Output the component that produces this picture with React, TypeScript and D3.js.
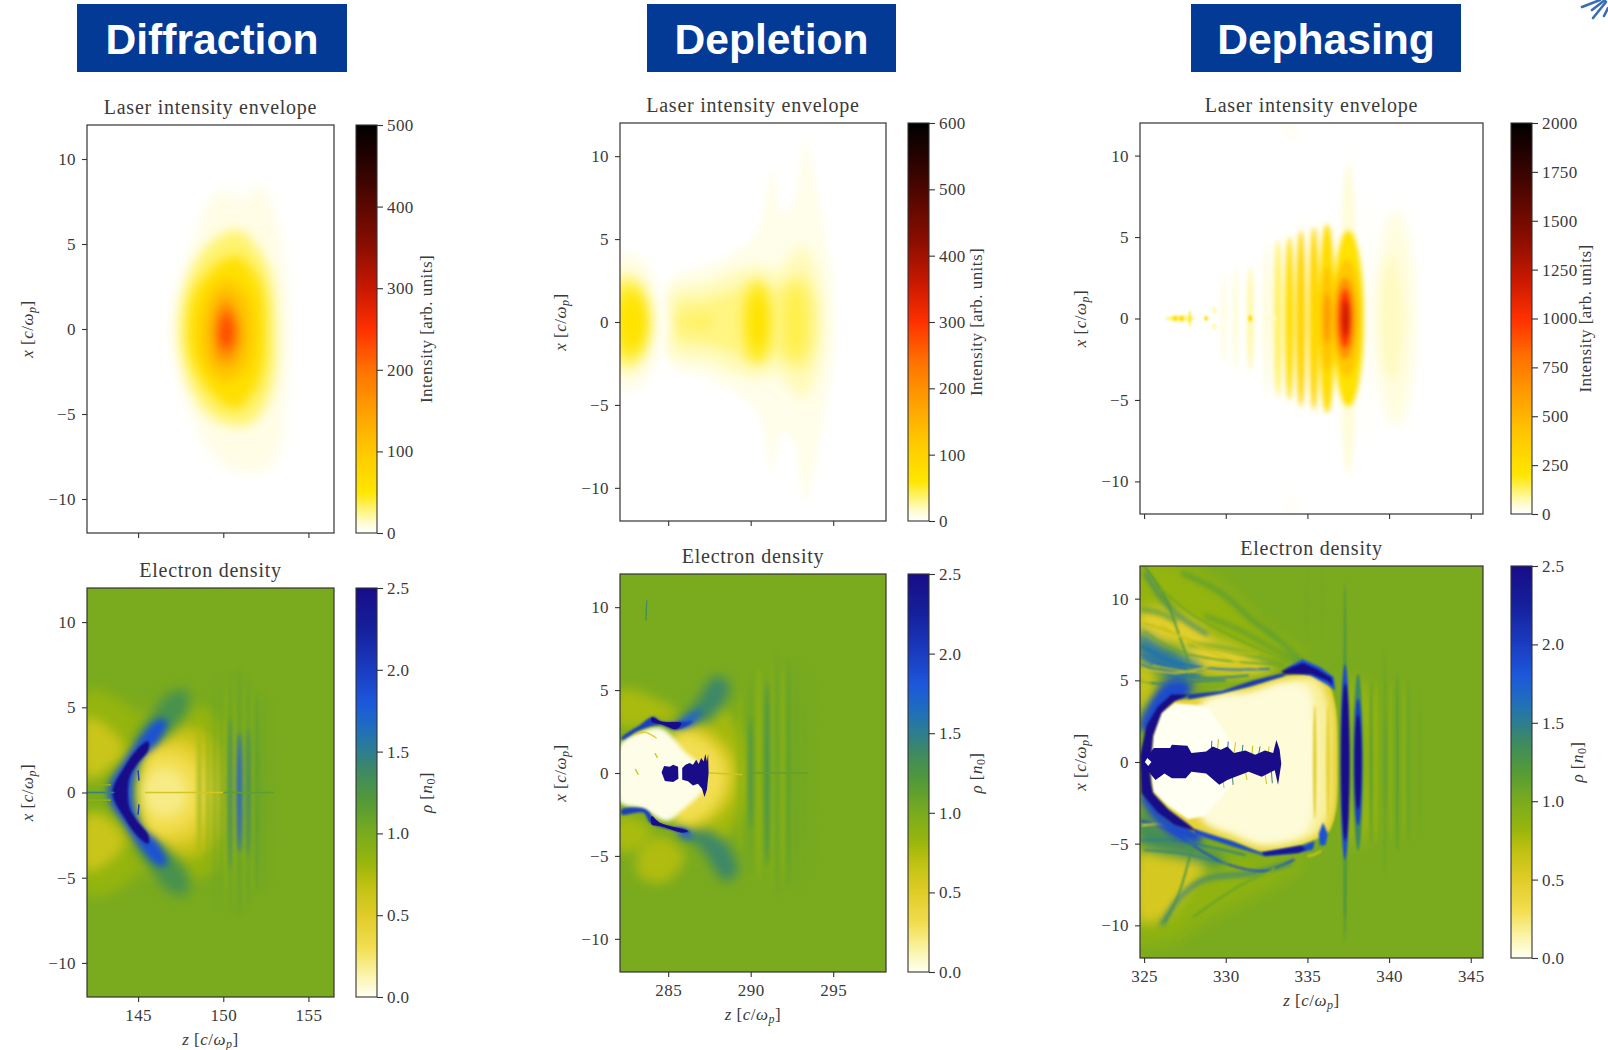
import React, { useEffect, useRef } from 'react';
import * as d3 from 'd3';

type Pt = [number, number];
type Layer = [number, Pt[]];
type Blob = [number, number, number, number, number]; // value, z, x, half width in z, half height in x
type Pass = { blur: number; polys?: Layer[]; blobs?: Blob[]; lines?: Layer[]; lineWidth?: number; jagged?: boolean };

const mirror = (pts: Pt[]): Pt[] => [
  ...pts,
  ...pts.slice().reverse().filter(d => d[1] !== 0).map(d => [d[0], -d[1]] as Pt),
];

const banners = ['Diffraction', 'Depletion', 'Dephasing'];
const xTicks = [-10, -5, 0, 5, 10];
const densityTicks = [0, 0.5, 1, 1.5, 2, 2.5];
const diffractionZTicks = [145, 150, 155];
const depletionZTicks = [285, 290, 295];
const dephasingZTicks = [325, 330, 335, 340, 345];
const diffractionLaserTicks = [0, 100, 200, 300, 400, 500];
const depletionLaserTicks = [0, 100, 200, 300, 400, 500, 600];
const dephasingLaserTicks = [0, 250, 500, 750, 1000, 1250, 1500, 1750, 2000];

const laserStops = [0, 0.02, 0.05, 0.1, 0.2, 0.3, 0.4, 0.5, 0.6, 0.7, 0.8, 0.9, 1];
const laserColors = ['#ffffff', '#fffde0', '#fff68a', '#ffe600', '#ffc800', '#ff9f00', '#ff7200', '#ff3000', '#c81800', '#8c0e00', '#5c0800', '#2c0300', '#000000'];
const densityStops = [0, 0.05, 0.12, 0.2, 0.28, 0.33, 0.4, 0.48, 0.55, 0.6, 0.65, 0.72, 0.8, 0.9, 1];
const densityColors = ['#fffff2', '#fbf5b0', '#f2de50', '#e0cc28', '#bcc010', '#96b50c', '#7aab1e', '#529a38', '#3f8a60', '#2e7d90', '#2070b8', '#1c58dc', '#1a3cc0', '#15209c', '#180c88'];

// Diffraction: laser contours, in [z, x] and arbitrary intensity
const diffractionLaser: Layer[] = [
  [8, [[150, 8.2], [151.1, 7.7], [152.2, 8.5], [153.2, 6.1], [153.7, 3], [153.9, 0], [153.7, -3.9], [153.2, -7.4], [152, -8.5], [150.2, -8.1], [148.5, -6], [147.5, -3.3], [146.9, 0], [147.4, 2.7], [148.4, 5.5], [149, 7.2]]],
  [30, [[150.9, 5.8], [152.6, 3.7], [153.1, 0], [152.8, -3.7], [151.5, -5.6], [149.5, -5.3], [148, -3.3], [147.4, 0], [147.9, 2.9], [149.2, 5]]],
  [62, [[150.7, 4.3], [152.1, 2.8], [152.5, 0], [152.1, -3.1], [150.7, -4.7], [149.2, -3.7], [148.1, -1.7], [147.9, 0], [148.4, 2.4]]],
  [105, [[150.2, 2.9], [151.4, 1.8], [151.7, 0], [151.3, -2.3], [150, -3.1], [148.9, -1.8], [148.7, 0], [149.1, 1.8]]],
  [165, [[150.2, 1.9], [151, 0], [150.6, -1.8], [149.8, -2], [149.4, 0], [149.7, 1.4]]],
  [240, [[150.2, 1.1], [150.6, 0], [150.3, -1.2], [149.9, -1], [149.8, 0]]],
];

// Diffraction: density
const diffractionWarm: Layer[] = [
  [0.84, mirror([[145, 4.5], [147, 5.2], [149.2, 4.8], [151, 2.8], [151.6, 0]])],
  [0.84, [[142, 6], [144, 5.4], [145.4, 3.8], [143.9, 1.6], [142, 0.4]]],
  [0.84, [[142, -0.9], [143.8, -1.4], [145.4, -3.8], [144, -5.6], [142, -6]]],
  [0.66, mirror([[146, 3.3], [147.5, 3.9], [149.3, 3.2], [150.4, 1.5], [150.7, 0]])],
  [0.62, [[142, 4.4], [143.5, 3.6], [144.2, 2.5], [143.1, 1.3], [142, 0.9]]],
  [0.62, [[142, -1.3], [143.1, -1.5], [144.2, -2.8], [143.5, -3.9], [142, -4.6]]],
  [0.46, mirror([[145.5, 2.7], [146.5, 3.1], [148, 2.9], [149.2, 1.7], [149.7, 0]])],
  [0.3, mirror([[145.2, 1.5], [146, 2.3], [147.5, 2.2], [148.5, 1.2], [148.9, 0]])],
  [0.2, mirror([[145.2, 0], [146, 1.3], [147.3, 1.2], [147.9, 0]])],
];
const diffractionTeal: Layer[] = [
  [1.3, [[144.8, 2.8], [145.6, 4.4], [146.8, 5.8], [147.8, 6], [148, 5], [147.2, 3.8], [146.2, 3]]],
  [1.3, [[144.8, -2.8], [145.6, -4.4], [146.8, -5.8], [147.8, -6], [148, -5], [147.2, -3.8], [146.2, -3]]],
];
const diffractionHalo: Layer[] = [
  [1.85, mirror([[143.2, 0], [144.2, 1.9], [145.1, 3.2], [146.2, 4.3], [146.7, 4.2], [146.2, 3], [145.2, 2], [144.8, 0.9], [144.7, 0]])],
];
const diffractionChevron: Layer[] = [
  [2.5, mirror([[143.5, 0], [144.2, 1.5], [145.1, 2.7], [145.6, 3], [145.6, 2.5], [144.9, 1.6], [144.5, 0.9], [144.4, 0]])],
];
const diffractionStripes: Blob[] = [
  [0.92, 148.6, 0, 0.09, 3.5], [0.95, 149.1, 0, 0.09, 4.5], [1.05, 149.5, 0, 0.09, 7], [1.08, 149.9, 0, 0.09, 7],
  [0.85, 150.15, 0, 0.08, 6.5], [1.08, 150.4, 0, 0.14, 7.2], [1.4, 150.4, 0, 0.13, 4.4], [0.85, 150.68, 0, 0.07, 6], [1.12, 150.95, 0, 0.14, 7.4], [1.75, 150.95, 0, 0.16, 3.5],
  [0.85, 151.2, 0, 0.07, 6], [1.1, 151.47, 0, 0.13, 7], [1.42, 151.47, 0, 0.12, 3.8], [0.88, 151.72, 0, 0.06, 6], [1.2, 151.97, 0, 0.09, 6], [1.1, 152.4, 0, 0.07, 6], [1.05, 152.9, 0, 0.06, 5.5],
];
const diffractionAxisLines: Layer[] = [
  [1.45, [[142, 0], [143.6, 0]]],
  [0.58, [[145.4, 0], [150, 0]]],
  [1.15, [[150, 0], [153, 0]]],
  [0.9, [[142, -0.45], [143.4, -0.45]]],
  [0.9, [[142, 0.45], [143.4, 0.45]]],
];
const diffractionDashes: Layer[] = [
  [2, [[145, 1.3], [145.05, 0.7]]],
  [2, [[145, -1.3], [145.05, -0.7]]],
  [1.7, [[144.5, 0.3], [144.5, -0.3]]],
];

// Depletion: laser
const depletionLaserFaint: Layer[] = [
  [8, mirror([[285, 0], [285.1, 2.6], [287.3, 3.4], [289.3, 4.4], [290.5, 5.6], [291.3, 9.2], [291.9, 6.6], [292.6, 7.2], [293.3, 10.9], [294.1, 7.5], [294.9, 3], [295.1, 0]])],
];
const depletionLaserBody: Layer[] = [
  [20, mirror([[285.1, 0], [285.2, 1.9], [287.3, 2.4], [289.3, 3.2], [290.5, 3.4], [291.6, 3.1], [292.3, 3.9], [293.2, 4.6], [294, 3.2], [294.4, 0]])],
  [32, mirror([[285.4, 0], [285.6, 1.1], [287, 1.3], [289, 1.9], [290.3, 2.6], [291.4, 2], [293, 2.9], [293.9, 1.5], [294, 0]])],
];
const depletionLaserBlobs: Blob[] = [
  [12, 282.5, 0, 2, 4.1], [32, 282.5, 0, 1.55, 2.9], [54, 282.7, 0, 1.15, 2.2], [66, 282.9, 0, 0.75, 1.4],
  [54, 290.4, 0, 0.85, 2.4], [68, 290.45, 0, 0.55, 1.5],
  [44, 292.7, 0, 0.65, 2.2], [52, 287.2, 0, 0.22, 0.3], [42, 286, 0, 0.22, 0.3], [44, 286.6, 0, 0.18, 0.3],
];

// Depletion: density
const depletionSoft: Layer[] = [
  [0.76, [[282, 5], [284, 4.6], [285.7, 3.5], [284, 3], [282, 2.8]]],
  [0.76, [[282, -2.6], [284, -3.4], [283, -4.6], [282, -4.8]]],
  [0.74, [[283.2, -4.8], [284.5, -3.8], [286, -5], [284.8, -6.6], [283.2, -6.2]]],
  [0.78, [[286.3, 3.6], [288.1, 4.2], [289.3, 2.4], [289.7, 0], [289.3, -2.6], [288, -4.3], [286.3, -3.6]]],
  [1.4, [[285.6, 2.8], [286.8, 4.4], [287.8, 5.8], [288.7, 5.4], [288.2, 3.9], [287, 2.9]]],
  [1.4, [[285.9, -3.3], [287.2, -4.8], [288.4, -6.5], [289.2, -6], [288.5, -4.2], [287.2, -3.4]]],
];
const depletionCream: Layer[] = [
  [0.55, [[285.5, 2.8], [287.4, 2.6], [288.8, 1.2], [289.1, 0], [288.8, -1.6], [287.4, -3], [285.5, -3.2]]],
  [0.3, [[285.5, 2.4], [287.2, 2], [288.3, 0.8], [288.5, 0], [288.3, -1.2], [287.2, -2.6], [285.5, -3]]],
];
const depletionBubble: Layer[] = [
  [0.02, [[282, 1.6], [283.3, 2.5], [284.6, 2.7], [286.1, 1.2], [287.2, 0.2], [287.2, -0.9], [285.9, -2.2], [284.9, -2.9], [283.5, -2.2], [282, -1.7]]],
];
const depletionBlueSoft: Layer[] = [
  [1.75, [[285.6, 3.1], [286.5, 3.6], [287, 3.9], [286.6, 3], [285.6, 2.7]]],
  [1.75, [[285.5, -3.3], [286.2, -3.5], [286.6, -3.9], [285.8, -3.9]]],
];
const depletionBlue: Layer[] = [
  [2, [[282.18, 2.15], [283.3, 2.9], [284.1, 3.4], [284.6, 3.1], [285.9, 3.1], [286.5, 3.1], [285.5, 2.6], [284.5, 2.9], [283.3, 2.6], [282.18, 2]]],
  [2, [[282.18, -2.2], [283.3, -2.1], [283.8, -2.3], [284.3, -3], [286.1, -3.4], [286.3, -3.6], [284.7, -3.3], [283.9, -3], [283.5, -2.4], [282.18, -2.5]]],
];
const depletionDark: Layer[] = [
  [2.5, [[284, 3.35], [284.6, 3.1], [285.8, 3], [285.5, 2.65], [284.7, 2.9], [284, 3.1]]],
  [2.5, [[284, -2.6], [284.5, -3], [286.2, -3.5], [285.9, -3.6], [284.5, -3.2], [284, -3.1]]],
];
const depletionCore: Layer[] = [
  [2.5, [[284.6, 0.05], [284.75, 0.42], [285.1, 0.38], [285.3, 0.5], [285.6, 0.38], [285.62, -0.35], [285.3, -0.55], [284.8, -0.48]]],
  [2.5, [[285.85, 0.3], [286.05, 0.5], [286.3, 0.6], [286.5, 0.5], [286.7, 0.8], [286.85, 0.55], [287, 0.9], [287.15, 0.7], [287.25, 1.15], [287.35, 0.7], [287.42, 1.15], [287.45, 0], [287.35, -1], [287.2, -1.45], [287.05, -0.95], [286.8, -0.65], [286.5, -0.75], [286.2, -0.5], [285.85, -0.4]]],
];
const depletionStripes: Blob[] = [
  [0.85, 289.35, 0, 0.12, 4.8], [1.08, 290, 0, 0.12, 6], [1.3, 290, 0, 0.12, 3.4], [0.85, 290.5, 0, 0.13, 6.5], [1.28, 291, 0, 0.16, 5.6], [0.88, 291.3, 0, 0.08, 7],
  [1.12, 291.6, 0, 0.09, 7.5], [0.88, 291.95, 0, 0.09, 6.5], [1.2, 292.3, 0, 0.09, 7], [1.12, 292.8, 0, 0.07, 7], [1.08, 293.3, 0, 0.06, 7], [1.06, 293.8, 0, 0.05, 6],
];
const depletionLines: Layer[] = [
  [1.35, [[283.7, 10.4], [283.65, 9.2]]],
  [0.6, [[287.5, 0], [289.5, -0.1]]],
  [1.12, [[290, 0], [293.5, 0]]],
  [0.6, [[283, 0.25], [283.2, -0.1]]],
  [0.5, [[282.9, 2.3], [283.6, 2.45], [284.3, 2.1]]],
  [0.6, [[284.2, 1.2], [284.35, 0.9]]],
];

// Dephasing: laser
const dephasingLaserSoft: Blob[] = [
  [100, 335.6, 0, 2.9, 4.2], [14, 335.4, 0, 3.5, 5.8], [42, 340.4, 0, 1.2, 6.6], [62, 340.1, 0, 0.75, 3.8], [12, 337.6, 0, 0.35, 10.2],
  [14, 334, 11.6, 0.5, 0.8], [14, 334, -11.6, 0.5, 0.8], [18, 338.7, 0, 0.2, 8],
];
const dephasingLaserStripes: Blob[] = [
  [50, 329.9, 0, 0.12, 2.8], [60, 330.6, 0, 0.12, 3.2], [90, 331.5, 0, 0.17, 3.2], [50, 332.5, 0, 0.13, 4.8], [130, 333.2, 0, 0.24, 4.8],
  [260, 333.9, 0, 0.27, 5], [320, 334.6, 0, 0.3, 5.4], [300, 335.4, 0, 0.32, 5.6], [270, 336.2, 0, 0.5, 5.8],
  [420, 336.2, 0, 0.38, 3.2], [640, 336.2, 0, 0.2, 1.6],
  [45, 337.5, 0, 0.5, 9.5], [230, 337.5, 0, 0.95, 5.4], [400, 337.4, 0, 0.85, 3.6], [660, 337.3, 0, 0.62, 2.5], [1000, 337.3, 0, 0.35, 1.8], [1180, 337.35, 0, 0.22, 1.1],
];
const dephasingLaserSpecks: Blob[] = [
  [100, 327.2, 0, 0.9, 0.2], [260, 326.9, 0, 0.15, 0.15], [270, 327.3, 0, 0.15, 0.15], [230, 327.8, 0, 0.06, 0.5], [240, 328.8, 0, 0.12, 0.15], [280, 331.5, 0, 0.12, 0.18],
  [70, 329.3, 0.5, 0.15, 0.2], [70, 329.3, -0.5, 0.15, 0.2], [50, 332.7, 0, 0.4, 0.15],
];

// Dephasing: density
const dephasingHaze: Layer[] = [
  [0.84, [[324.5, 12.3], [327, 12.3], [330, 10.5], [332.5, 8], [334.8, 6.2], [332, 5.4], [328, 4.8], [324.5, 3.5]]],
  [0.86, [[324.5, -4], [328, -5], [332, -6], [335, -6], [332, -8], [329, -9.5], [326.5, -11], [324.5, -11]]],
  [0.78, [[337.6, 5], [338.55, 4.5], [338.8, 0], [338.55, -4.5], [337.6, -5], [338.35, 0]]],
];
const dephasingLobes: Layer[] = [
  [0.48, [[324.75, 9.3], [326, 9.4], [328, 8.6], [329.2, 7.5], [326.7, 7.3], [324.75, 7.8]]],
  [0.46, [[327.5, 7.3], [329.5, 7.4], [331.7, 6.5], [332.9, 5.8], [331, 5.3], [328.5, 5.6], [327.6, 6]]],
  [0.62, [[324.75, 6.4], [325.5, 5.6], [325.6, 4.6], [325, 3.1], [324.75, 3]]],
  [1.55, [[324.75, 8], [326, 7.2], [327.9, 6.3], [328.6, 5.6], [326.7, 5.2], [325.7, 5.8], [324.75, 6.6]]],
  [1.9, [[326, 4.6], [326.8, 5.1], [328.1, 4.7], [327, 4.1], [326.3, 4.2]]],
  [1.35, [[324.75, -3], [326, -4], [328, -5], [330, -6], [329.5, -6.4], [327, -5.7], [324.75, -5]]],
  [0.56, [[324.75, -5.6], [326.3, -5.8], [328.7, -6.3], [327.6, -8], [326.3, -9.5], [324.75, -9.8]]],
];
const dephasingWideFilaments: Layer[] = [
  [1.42, [[325.04, 11.6], [326.67, 9.35], [328.9, 7.8]]],
  [1.25, [[324.8, 9.35], [326, 9.1], [327, 8.6]]],
  [1.5, [[334, -6.16], [331.77, -6.78], [328.7, -7.18], [327.28, -8.2], [326.06, -10]]],
  [1.2, [[334.63, 6.18], [333.2, 7.5], [331.57, 8.73], [329.73, 10.35], [327.28, 11.6]]],
  [1.15, [[334.4, 6.08], [332.8, 7], [330.75, 8.12], [328.7, 8.94]]],
  [1.15, [[333.6, 5.88], [331.77, 6.49], [329.73, 7], [327.7, 7.2]]],
  [1.7, [[324.8, 6.6], [326.67, 5.6], [328.5, 5.4]]],
];
const dephasingFilaments: Layer[] = [
  [1.25, [[326.47, 9.75], [327.2, 7.6], [327.7, 6.08], [327.75, 4.4]]],
  [1.25, [[325, 12], [325.8, 10.9], [326.47, 9.75]]],
  [1.65, [[332.7, 5.7], [329.5, 5.7], [326.9, 6.1], [324.8, 7.1]]],
  [1.5, [[331.4, 5.3], [328.4, 5.15], [325.8, 5.6], [324.8, 6]]],
  [1.45, [[330, 5], [327.5, 4.9], [325.8, 4.8], [324.8, 5]]],
  [0.7, [[331, 5.5], [328, 5.5], [325.5, 5.9]]],
  [1.05, [[333, 6], [330, 6.2], [327, 6.8], [325, 8]]],
  [0.7, [[332, 6.6], [329, 7], [326.5, 8], [325, 8.5]]],
  [1.05, [[334, 6.1], [331, 7.4], [328, 9], [326, 10.6]]],
  [1.9, [[334.2, -5.96], [332.4, -6.67], [330.14, -6.27], [328.7, -5.55], [326.26, -4], [324.8, -3.6]]],
  [1.5, [[331.2, -5.7], [329, -5.2], [326.9, -4.8], [324.8, -4.8]]],
  [1.45, [[330.14, -6.27], [327.3, -5.6], [325, -5.4]]],
  [1.3, [[328.1, -4.43], [327.7, -6.16], [327.08, -8.2], [326.26, -9.8]]],
  [0.5, [[324.85, -3.9], [325.8, -3.8], [326.8, -4.1]]],
  [0.55, [[335, -5.76], [335.45, -5.65], [335.85, -5.45]]],
  [0.6, [[326, 8.4], [328.5, 7], [331, 6]]],
  [0.6, [[325, 5.7], [327, 5.45], [329.5, 5.9], [332, 5.75]]],
  [0.66, [[324.85, 5], [325.4, 4.9]]],
  [1.15, [[337.35, -6], [337.3, -9.4]]],
  [1.12, [[328, -9.5], [331, -7.5], [334, -6.2]]],
  [0.9, [[327, -11], [329.5, -9], [333, -6.5]]],
];
const dephasingShellHalo: Layer[] = [
  [1.9, [[324.75, 2], [325.3, 3.6], [326.3, 4.7], [327.8, 4.7], [327.5, 4], [326.5, 3.6], [325.6, 2]]],
  [1.9, [[324.75, -2], [325.5, -3.4], [326.8, -4.6], [328.5, -4.9], [328.3, -4.2], [326.5, -3.4], [325.4, -2]]],
];
const dephasingBody: Layer[] = [
  [0.42, [[325.45, 0.4], [325.55, 1.6], [326.06, 3], [326.87, 3.73], [327.7, 3.84], [329.73, 4.2], [331.57, 4.65], [333.6, 5.27], [335.24, 5.3], [336.2, 4.9], [336.7, 3.5], [336.85, 0], [336.7, -3.2], [336.2, -4.4], [335.3, -4.8], [334.5, -5.1], [332.2, -5.5], [330.34, -4.84], [328.1, -4.3], [326.47, -2.9], [325.55, -1.9], [325.4, -0.5]]],
];
const dephasingCream: Layer[] = [
  [0.16, [[329, 3.8], [331.6, 4.4], [333.6, 5], [335.5, 5.1], [336.3, 3.5], [336.45, 0], [336.3, -3.2], [335.6, -4.4], [334.5, -4.9], [332.2, -5.2], [330.3, -4.5], [329, -3.8]]],
  [0.05, [[328.5, 3.6], [331.6, 4.3], [333.6, 4.9], [335, 4.6], [335.4, 3], [335.5, 0], [335.4, -3], [334.8, -4.4], [332.2, -5], [330.3, -4.3], [328.5, -3.5]]],
];
const dephasingWhiteCore: Layer[] = [
  [0, [[325.45, 0.4], [325.55, 1.6], [326.06, 3], [326.87, 3.6], [328, 3.5], [328.9, 3.4], [330.5, 1], [331, 0], [330.34, -1.47], [328.7, -3.3], [327.7, -3.5], [326.47, -2.7], [325.55, -1.8], [325.4, -0.5]]],
];
const dephasingShellBlue: Layer[] = [
  [2.05, [[327.7, 4.14], [329.73, 4.35], [331.57, 4.96], [333.6, 5.47], [333.6, 5.27], [331.57, 4.65], [329.73, 4.2], [327.7, 3.84]]],
  [1.9, [[328.1, -4.1], [330.34, -4.84], [332.18, -5.55], [334.63, -5.14], [335.45, -4.84], [335.34, -5.35], [334.43, -5.55], [332.4, -5.76], [330.34, -5.14], [328.1, -4.43]]],
  [1.85, [[335.95, -3.7], [336.25, -4.4], [336.1, -5.1], [335.75, -5.1], [335.7, -4.4]]],
  [1.8, [[333.6, 5.7], [334.7, 6.3], [335.8, 5.8], [336.6, 5.2], [336.7, 4.4], [336.25, 4.7], [335.2, 5.3]]],
];
const dephasingShellDark: Layer[] = [
  [2.5, [[324.75, 0.4], [325.14, 2.2], [325.85, 3.4], [326.67, 4.14], [327.8, 4.14], [326.87, 3.73], [326.06, 3.02], [325.55, 1.6], [325.45, 0.37], [325.3, 0], [324.75, 0]]],
  [2.5, [[324.75, 0], [325.3, 0], [325.45, -1.4], [325.55, -1.9], [326.47, -2.9], [327.7, -3.8], [328.3, -4.3], [326.87, -3.85], [325.85, -3.1], [324.83, -1.9]]],
  [2.5, [[333.4, 5.57], [334.73, 6.08], [335.65, 5.67], [336.47, 5.16], [336.57, 4.65], [336.26, 4.96], [335.24, 5.37], [333.6, 5.37]]],
  [2.4, [[332.2, -5.55], [334.63, -5.12], [334.9, -5.35], [334.43, -5.55], [332.4, -5.72]]],
];
const dephasingCore: Layer[] = [
  [2.5, [[325, 0.1], [325.6, 0.85], [326.6, 0.85], [326.7, 1.05], [327.65, 1], [327.9, 0.55], [328.8, 0.65], [329.2, 0.95], [329.7, 0.75], [330.1, 0.95], [330.5, 0.55], [331.2, 0.7], [331.8, 0.45], [332.4, 0.7], [332.9, 0.55], [333.1, 1.35], [333.3, 0.75], [333.4, -0.1], [333.2, -1.4], [333, -0.5], [332.2, -0.9], [331.4, -0.6], [330.6, -0.9], [330.1, -1.1], [329.6, -1.4], [328.8, -0.7], [327.9, -0.6], [327.55, -1], [326.7, -1], [326.25, -0.7], [325.7, -1.1], [325.2, -0.5]]],
];
const dephasingStripeBlobs: Blob[] = [
  [1.25, 337.3, 0, 0.1, 11], [1.9, 337.3, 0, 0.28, 6], [2.5, 337.32, 0, 0.26, 4.8],
  [1.4, 338.1, 0, 0.3, 5.4], [2, 338.1, 0, 0.25, 3.9], [2.5, 338.1, 0, 0.21, 2.9],
  [1.15, 338.9, 0, 0.07, 5], [0.85, 339.2, 0, 0.1, 5], [1.35, 339.75, 0, 0.09, 4], [1.08, 339.75, 0, 0.08, 7],
  [0.88, 340.1, 0, 0.08, 5], [1.18, 340.5, 0, 0.07, 5.5], [0.9, 340.9, 0, 0.07, 5], [1.1, 341.2, 0, 0.06, 5], [1.06, 341.9, 0, 0.05, 4.5],
  [0.5, 335.45, 0, 0.1, 3.5], [0.42, 336.27, 0, 0.12, 3.5], [1.05, 335, 9.8, 0.05, 2.4], [1.05, 335.9, 9.8, 0.05, 2.4],
];
const dephasingSpikes: Layer[] = [
  [1.6, [[329.1, 0.5], [329.15, 1.3]]], [0.7, [[329.5, 0.7], [329.55, 1.4]]], [1.7, [[330.1, 0.5], [330.15, 1.25]]], [0.6, [[330.5, 0.5], [330.6, 1.2]]],
  [1.5, [[331, 0.5], [331.05, 1.05]]], [0.7, [[331.6, 0.4], [331.65, 1]]], [1.5, [[332, 0.4], [332.1, 0.95]]], [0.6, [[332.6, 0.5], [332.65, 0.95]]],
  [0.6, [[329.8, -0.9], [329.9, -1.6]]], [1.4, [[330.4, -0.8], [330.45, -1.4]]], [0.6, [[331.2, -0.6], [331.3, -1.1]]], [0.6, [[332.4, -0.7], [332.5, -1.35]]], [1.5, [[332.8, -0.6], [332.85, -1.3]]],
];
const dephasingSparkle: Layer[] = [
  [0, [[325.2, 0.25], [325.45, 0], [325.25, -0.25], [325.05, 0]]],
];

const logoRays: Pt[][] = [
  [[1582, 7], [1600, 0]],
  [[1592, 10], [1605, 0]],
  [[1593, 18], [1606, 2]],
  [[1604, 16], [1608, 8]],
];

const laserScale = (vMax: number) =>
  d3.scaleLinear<string>().domain(laserStops.map(d => d * vMax)).range(laserColors).clamp(true);
const densityScale = d3.scaleLinear<string>().domain(densityStops.map(d => d * 2.5)).range(densityColors).clamp(true);

const blurs = [0.7, 1.2, 2, 2.8, 3.5, 6, 9];

type PanelProps = {
  id: string;
  left: number;
  right: number;
  top: number;
  bottom: number;
  zDomain: number[];
  zTicks: number[];
  showZ: boolean;
  color: (v: number) => string;
  base: string;
  passes: Pass[];
  title: string;
  barLeft: number;
  barDomain: number;
  barTicks: number[];
  barFormat: (v: number) => string;
  barLabel: React.ReactNode;
  barLabelX: number;
};

const textColor = '#3a3a3a';
const serif = "'Liberation Serif', 'DejaVu Serif', serif";

const Panel = (p: PanelProps) => {
  const yAxisRef = useRef<SVGGElement>(null);
  const zAxisRef = useRef<SVGGElement>(null);
  const barAxisRef = useRef<SVGGElement>(null);

  const zScale = d3.scaleLinear().domain(p.zDomain).range([p.left, p.right]);
  const xScale = d3.scaleLinear().domain([-12, 12]).range([p.bottom, p.top]);
  const barScale = d3.scaleLinear().domain([0, p.barDomain]).range([p.bottom, p.top]);

  useEffect(() => {
    const styleAxis = (sel: d3.Selection<SVGGElement, unknown, null, undefined>) => {
      sel.attr('font-family', serif).attr('font-size', 17);
      sel.select('.domain').remove();
      sel.selectAll('line').attr('stroke', '#333').attr('stroke-width', 1.1);
      sel.selectAll('text').attr('fill', textColor).attr('letter-spacing', 0.4);
    };
    d3.select(yAxisRef.current!)
      .call(d3.axisLeft(xScale).tickValues(xTicks).tickSize(5).tickPadding(6).tickFormat(d3.format('d') as any) as any)
      .call(styleAxis as any);
    d3.select(zAxisRef.current!)
      .call(d3.axisBottom(zScale).tickValues(p.zTicks).tickSize(5).tickPadding(7).tickFormat((d: any) => (p.showZ ? String(d) : '')) as any)
      .call(styleAxis as any);
    d3.select(barAxisRef.current!)
      .call(d3.axisRight(barScale).tickValues(p.barTicks).tickSize(6).tickPadding(4).tickFormat(p.barFormat as any) as any)
      .call(styleAxis as any);
  }, []);

  const poly = d3.line<Pt>().x(d => zScale(d[0])).y(d => xScale(d[1])).curve(d3.curveCatmullRomClosed.alpha(0.5));
  const jag = d3.line<Pt>().x(d => zScale(d[0])).y(d => xScale(d[1])).curve(d3.curveLinearClosed);
  const open = d3.line<Pt>().x(d => zScale(d[0])).y(d => xScale(d[1])).curve(d3.curveCatmullRom.alpha(0.5));
  const gradStops = d3.range(0, 1.0001, 1 / 40);
  const midY = (p.top + p.bottom) / 2;

  return (
    <g>
      <clipPath id={`clip-${p.id}`}>
        <rect x={p.left} y={p.top} width={p.right - p.left} height={p.bottom - p.top} />
      </clipPath>
      <linearGradient id={`grad-${p.id}`} x1="0" y1="1" x2="0" y2="0">
        {gradStops.map(t => (
          <stop key={t} offset={t} stopColor={p.color(t * p.barDomain)} />
        ))}
      </linearGradient>
      <text x={(p.left + p.right) / 2} y={p.top - 11} textAnchor="middle" fontFamily={serif} fontSize={20} letterSpacing={0.75} fill={textColor}>
        {p.title}
      </text>
      <g clipPath={`url(#clip-${p.id})`}>
        <rect x={p.left} y={p.top} width={p.right - p.left} height={p.bottom - p.top} fill={p.base} />
        {p.passes.map((pass, i) => (
          <g key={i} filter={`url(#blur-${blurs.indexOf(pass.blur)})`}>
            {(pass.polys || []).map((l, j) => (
              <path key={j} d={(pass.jagged ? jag : poly)(l[1]) || ''} fill={p.color(l[0])} />
            ))}
            {(pass.blobs || []).map((b, j) => (
              <ellipse
                key={j}
                cx={zScale(b[1])}
                cy={xScale(b[2])}
                rx={Math.abs(zScale(b[1] + b[3]) - zScale(b[1]))}
                ry={Math.abs(xScale(b[2] + b[4]) - xScale(b[2]))}
                fill={p.color(b[0])}
              />
            ))}
            {(pass.lines || []).map((l, j) => (
              <path key={j} d={open(l[1]) || ''} fill="none" stroke={p.color(l[0])} strokeWidth={pass.lineWidth || 1.5} />
            ))}
          </g>
        ))}
      </g>
      <rect x={p.left} y={p.top} width={p.right - p.left} height={p.bottom - p.top} fill="none" stroke="#333" strokeWidth={1.2} />
      <g ref={yAxisRef} transform={`translate(${p.left},0)`} />
      <g ref={zAxisRef} transform={`translate(0,${p.bottom})`} />
      <rect x={p.barLeft} y={p.top} width={21} height={p.bottom - p.top} fill={`url(#grad-${p.id})`} stroke="#333" strokeWidth={1.1} />
      <g ref={barAxisRef} transform={`translate(${p.barLeft + 21},0)`} />
      <text transform={`translate(${p.left - 54},${midY}) rotate(-90)`} textAnchor="middle" fontFamily={serif} fontSize={17} letterSpacing={0.5} fill={textColor}>
        <tspan fontStyle="italic">x</tspan> [<tspan fontStyle="italic">c</tspan>/<tspan fontStyle="italic">ω</tspan>
        <tspan fontStyle="italic" fontSize={12} dy={3}>p</tspan>
        <tspan dy={-3}>]</tspan>
      </text>
      <text transform={`translate(${p.barLabelX},${midY}) rotate(-90)`} textAnchor="middle" fontFamily={serif} fontSize={17} letterSpacing={0.45} fill={textColor}>
        {p.barLabel}
      </text>
      {p.showZ && (
        <text x={(p.left + p.right) / 2} y={p.bottom + 48} textAnchor="middle" fontFamily={serif} fontSize={17} letterSpacing={0.5} fill={textColor}>
          <tspan fontStyle="italic">z</tspan> [<tspan fontStyle="italic">c</tspan>/<tspan fontStyle="italic">ω</tspan>
          <tspan fontStyle="italic" fontSize={12} dy={3}>p</tspan>
          <tspan dy={-3}>]</tspan>
        </text>
      )}
    </g>
  );
};

const intensityLabel = 'Intensity [arb. units]';
const rhoLabel = (
  <>
    <tspan fontStyle="italic">ρ</tspan> [<tspan fontStyle="italic">n</tspan>
    <tspan fontSize={12} dy={3}>0</tspan>
    <tspan dy={-3}>]</tspan>
  </>
);
const fmt1 = d3.format('.1f');
const fmt0 = d3.format('d');

const App = () => {
  const density = (v: number) => densityScale(v);
  const baseGreen = densityScale(1);

  const laserPanel = { title: 'Laser intensity envelope', showZ: false, base: '#ffffff', barFormat: fmt0, barLabel: intensityLabel };
  const densityPanel = { title: 'Electron density', showZ: true, base: baseGreen, color: density, barDomain: 2.5, barTicks: densityTicks, barFormat: fmt1, barLabel: rhoLabel };

  const bannerBoxes = [
    { x0: 77, x1: 347 },
    { x0: 647, x1: 896 },
    { x0: 1191, x1: 1461 },
  ];

  return (
    <svg width={1608} height={1050} style={{ position: 'absolute', left: 0, top: 0, background: '#fff' }}>
      <defs>
        {blurs.map((b, i) => (
          <filter key={b} id={`blur-${i}`} filterUnits="userSpaceOnUse" x={0} y={0} width={1608} height={1050} colorInterpolationFilters="sRGB">
            <feGaussianBlur stdDeviation={b} />
          </filter>
        ))}
      </defs>

      {banners.map((b, i) => (
        <g key={b}>
          <rect x={bannerBoxes[i].x0} y={4} width={bannerBoxes[i].x1 - bannerBoxes[i].x0} height={68} fill="#023a96" />
          <text x={(bannerBoxes[i].x0 + bannerBoxes[i].x1) / 2} y={54} textAnchor="middle" fontFamily="'Liberation Sans', Arial, sans-serif" fontWeight={700} fontSize={42.6} fill="#fff">
            {b}
          </text>
        </g>
      ))}
      {logoRays.map((r, i) => (
        <line key={i} x1={r[0][0]} y1={r[0][1]} x2={r[1][0]} y2={r[1][1]} stroke="#3a6db5" strokeWidth={2.6} strokeLinecap="round" />
      ))}

      <Panel
        id="a1" {...laserPanel}
        left={87} right={334} top={125} bottom={533}
        zDomain={[142, 156.5]} zTicks={diffractionZTicks}
        color={laserScale(500)}
        passes={[{ blur: 6, polys: diffractionLaser }]}
        barLeft={356} barDomain={500} barTicks={diffractionLaserTicks} barLabelX={432}
      />
      <Panel
        id="a2" {...densityPanel}
        left={87} right={334} top={588} bottom={997}
        zDomain={[142, 156.5]} zTicks={diffractionZTicks}
        passes={[
          { blur: 6, polys: diffractionWarm },
          { blur: 6, polys: diffractionTeal },
          { blur: 3.5, polys: diffractionHalo },
          { blur: 1.2, polys: diffractionChevron },
          { blur: 2, blobs: diffractionStripes },
          { blur: 0.7, lines: diffractionAxisLines, lineWidth: 1.6 },
          { blur: 0.7, lines: diffractionDashes, lineWidth: 1.4 },
        ]}
        barLeft={356} barLabelX={432}
      />

      <Panel
        id="b1" {...laserPanel}
        left={620} right={886} top={123} bottom={521}
        zDomain={[282.08, 298.2]} zTicks={depletionZTicks}
        color={laserScale(600)}
        passes={[
          { blur: 3.5, polys: depletionLaserFaint },
          { blur: 6, polys: depletionLaserBody },
          { blur: 6, blobs: depletionLaserBlobs },
        ]}
        barLeft={908} barDomain={600} barTicks={depletionLaserTicks} barLabelX={982}
      />
      <Panel
        id="b2" {...densityPanel}
        left={620} right={886} top={574} bottom={972}
        zDomain={[282.08, 298.2]} zTicks={depletionZTicks}
        passes={[
          { blur: 6, polys: depletionSoft },
          { blur: 6, polys: depletionCream },
          { blur: 2, polys: depletionBubble },
          { blur: 3.5, polys: depletionBlueSoft },
          { blur: 1.2, polys: depletionBlue },
          { blur: 0.7, polys: depletionDark },
          { blur: 0.7, polys: depletionCore, jagged: true },
          { blur: 2, blobs: depletionStripes },
          { blur: 0.7, lines: depletionLines, lineWidth: 1.3 },
        ]}
        barLeft={908} barLabelX={982}
      />

      <Panel
        id="c1" {...laserPanel}
        left={1140} right={1483} top={123} bottom={514}
        zDomain={[324.75, 345.75]} zTicks={dephasingZTicks}
        color={laserScale(2000)}
        passes={[
          { blur: 6, blobs: dephasingLaserSoft },
          { blur: 2.8, blobs: dephasingLaserStripes },
          { blur: 1.2, blobs: dephasingLaserSpecks },
        ]}
        barLeft={1511} barDomain={2000} barTicks={dephasingLaserTicks} barLabelX={1591}
      />
      <Panel
        id="c2" {...densityPanel}
        left={1140} right={1483} top={566} bottom={958}
        zDomain={[324.75, 345.75]} zTicks={dephasingZTicks}
        passes={[
          { blur: 9, polys: dephasingHaze },
          { blur: 6, polys: dephasingLobes },
          { blur: 2.8, lines: dephasingWideFilaments, lineWidth: 3.5 },
          { blur: 1.2, lines: dephasingFilaments, lineWidth: 1.8 },
          { blur: 3.5, polys: dephasingShellHalo },
          { blur: 1.2, polys: dephasingBody },
          { blur: 3.5, polys: dephasingCream },
          { blur: 1.2, polys: dephasingWhiteCore, jagged: true },
          { blur: 1.2, polys: dephasingShellBlue, jagged: true },
          { blur: 1.2, polys: dephasingShellDark, jagged: true },
          { blur: 1.2, blobs: dephasingStripeBlobs },
          { blur: 0.7, lines: dephasingSpikes, lineWidth: 1 },
          { blur: 0.7, polys: dephasingCore, jagged: true },
          { blur: 0.7, polys: dephasingSparkle, jagged: true },
        ]}
        barLeft={1511} barLabelX={1583}
      />
    </svg>
  );
};

export default App;
